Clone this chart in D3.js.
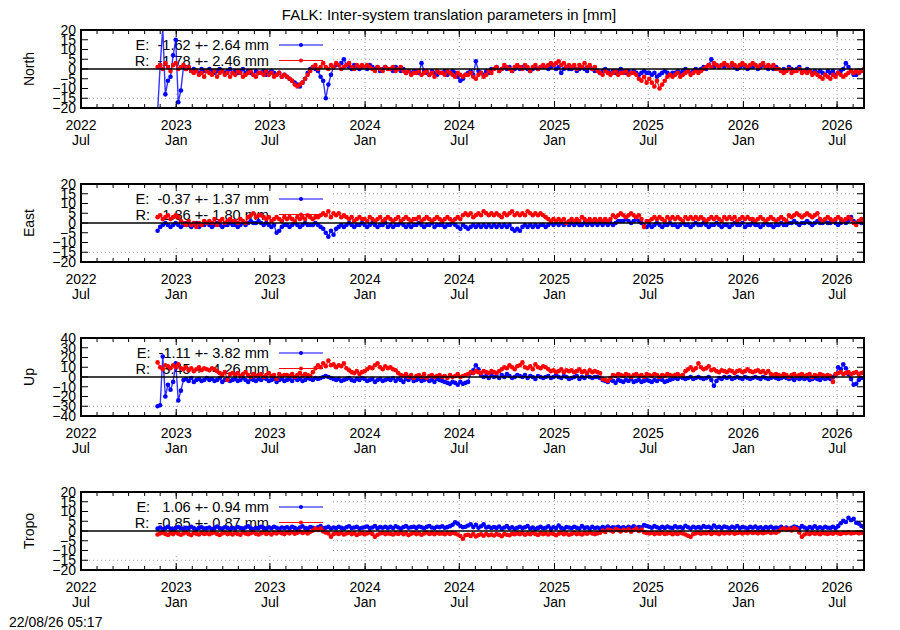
<!DOCTYPE html>
<html>
<head>
<meta charset="utf-8">
<script src="https://cdn.jsdelivr.net/npm/d3@7"></script>
<style>
body { margin: 0; background: #fff; }
svg { display: block; font-family: "Liberation Sans", Arial, sans-serif; }
</style>
</head>
<body>
<svg id="chart" width="900" height="630"></svg>
<script>
// series are sampled every 5 days from the first epoch
var startDay = "2022-11-26";
var stepDays = 5;

// North [mm]
var northE = [
  -22, 2, 21, -13, -6, -4, 7, 15, -17, -11,
  1, 0, 1, -1, 0, -1, -2, 0, -1, -1,
  0, -1, -2, -1, 0, -1, -2, -1, 0, -2,
  -1, -2, -1, 0, -2, -1, -2, -3, -1, -2,
  -2, -1, -3, -2, -1, -2, -3, -2, -4, -3,
  -4, -5, -6, -7, -8, -9, -7, -5, -2, 0,
  1, 0, -1, -4, -6, -15, -8, -3, 1, 2,
  2, 3, 5, 2, 1, 0, 2, 1, 0, 1,
  1, 0, 2, 1, 0, 1, -1, 0, 1, 0,
  0, -1, 1, 0, -1, 0, -2, -1, -2, -1,
  -1, -2, 3, -1, -2, -3, -1, -2, -3, -2,
  -2, -1, -3, -2, -1, -2, -4, -6, -5, -3,
  -2, -1, -3, 4, -1, -2, -3, -1, -2, 0,
  0, 1, -1, 0, 1, 0, 1, -1, 0, 1,
  0, 1, 1, 0, -1, 0, 1, 0, 1, 1,
  1, 0, 1, 2, 0, 1, -2, 0, 1, 0,
  0, 1, -1, 0, 1, 0, -1, 1, 0, -1,
  -1, -2, -1, 0, -1, -2, -1, -2, -1, 0,
  -1, -2, -1, -2, -1, -2, -3, -2, -1, -2,
  -2, -3, -2, -4, -3, -2, -1, -2, -3, -2,
  -2, -1, -2, -1, 0, -1, -2, -1, 0, -1,
  0, 1, 0, 2, 5, 1, 2, 1, 2, 1,
  2, 1, 2, 1, 0, 1, 2, 1, 0, 1,
  1, 2, 0, 1, 2, 1, 0, 1, 0, 1,
  0, -1, 0, -1, 1, 0, -1, 0, 1, -1,
  -1, 0, -1, -2, -1, -2, -1, -2, -3, -1,
  -2, -1, -3, -2, -1, 0, 3, 1, -1, -3,
  -3, -2, -1, -1
];
var northR = [
  1, 2, 0, 3, 1, -1, 2, 3, 0, 1,
  2, 0, 1, -1, -2, -1, -3, -2, -4, -1,
  -2, -3, -1, -4, -2, -1, -3, -2, -4, -2,
  -3, -1, -2, -4, -3, -2, -1, -3, -4, -2,
  -2, -3, -1, -3, -2, -4, -3, -2, -4, -3,
  -4, -5, -6, -8, -9, -8, -7, -5, -3, -1,
  1, 2, 0, 1, 3, 1, 0, 2, 1, 3,
  2, 0, 1, 2, 3, 1, 0, 2, 1, 2,
  1, 2, 1, 0, -1, 1, 0, -1, 1, 0,
  0, 1, -1, 0, 1, -1, -2, -1, -3, -2,
  -2, -1, -3, -2, -1, -3, -2, -4, -1, -2,
  -2, -3, -1, -2, -3, -4, -2, -3, -4, -3,
  -3, -2, -4, -5, -3, -2, -4, -3, -1, -2,
  0, 1, -1, 0, 2, 1, 0, -1, 1, 2,
  1, 0, 2, 1, -1, 1, 2, 0, 1, 2,
  1, 2, 3, 2, 3, 4, 2, 3, 1, 2,
  1, 2, 0, 2, 1, 3, 1, 2, 0, 1,
  -1, -2, -3, -1, -2, -3, -2, -1, -3, -2,
  -2, -1, -3, -2, -2, -3, -5, -6, -4, -7,
  -5, -7, -9, -6, -10, -8, -6, -4, -3, -4,
  -3, -2, -4, -3, -2, -1, -3, -2, -1, -2,
  -1, 0, 1, 2, 1, 3, 2, 1, 2, 3,
  2, 1, 3, 2, 1, 2, 3, 2, 1, 2,
  3, 2, 1, 2, 3, 1, 2, 1, 2, 0,
  0, -1, -2, -1, 0, -2, -1, -1, 0, -2,
  -1, -2, -1, -3, -2, -3, -4, -5, -3, -4,
  -5, -3, -4, -2, -3, -4, -3, -2, -1, -2,
  -1, -2, -1, 0
];

// East [mm]
var eastE = [
  -4, -2, -1, 0, -1, -2, -1, 0, -1, -2,
  -1, 0, -1, -2, -1, 0, -2, -1, -1, 0,
  -1, -2, -1, 0, -1, -2, -1, -1, 0, -1,
  -1, -2, -1, 0, -1, 0, 1, 0, 0, 1,
  0, -1, 0, -1, -2, -1, -5, -4, -2, -1,
  -1, -2, -1, 0, -1, -2, -1, 0, -1, -1,
  -1, 0, -1, -2, -3, -5, -7, -4, -6, -3,
  -2, -1, -2, -1, 0, -1, -2, -1, -1, 0,
  -1, -2, -1, 0, -1, -2, -1, -1, 0, -2,
  -1, -2, -1, -1, 0, -1, -2, -1, -2, -1,
  -1, 0, -1, -2, -1, -1, 0, -2, -1, -1,
  -1, -2, -1, -1, 0, -1, -2, -3, -1, -2,
  -3, -2, -1, -2, -1, -2, -1, -2, -1, -2,
  -1, -2, -1, -2, -1, -2, -1, -3, -4, -3,
  -4, -2, -1, -2, -1, -2, -1, -2, -1, -1,
  -2, -1, 0, -1, 0, -1, 0, -1, 0, -1,
  0, -1, 0, -1, -1, 0, -1, 0, -1, 0,
  -1, 0, -1, 0, -1, 0, -1, 0, 1, 1,
  1, 2, 1, 0, 1, 2, 1, 0, -1, -2,
  -1, -2, -1, 0, -1, -2, -1, -1, 0, -1,
  -1, -2, -1, 0, -1, -1, -2, -1, 0, -1,
  -1, 0, -1, -2, -1, -1, 0, -1, -2, -1,
  -1, -2, -1, 0, -1, -1, 0, -2, -1, -1,
  0, -1, -1, -2, -1, 0, -1, -1, -2, -1,
  -1, 0, -1, -1, 0, 0, 1, 0, -1, 0,
  0, 1, 0, -1, 0, 1, 0, 0, 1, 0,
  0, 1, 0, -1, 0, 1, 0, 1, 3, 1,
  0, 1, 0, 0
];
var eastR = [
  3, 4, 2, 3, 4, 2, 3, 4, 3, 1,
  0, -1, 1, -1, 0, -2, 0, -1, 1, 0,
  1, 0, 2, -1, 1, 2, 0, 1, 2, 1,
  1, 0, 2, 1, 0, 3, 4, 5, 3, 4,
  4, 3, 2, 3, 1, 2, 3, 2, 1, 3,
  2, 3, 2, 1, 3, 2, 3, 2, 4, 3,
  2, 3, 3, 4, 5, 4, 6, 3, 5, 4,
  5, 3, 4, 3, 2, 3, 1, 2, 3, 2,
  2, 1, 3, 2, 1, 2, 3, 1, 2, 3,
  2, 1, 2, 3, 1, 2, 3, 2, 1, 2,
  2, 3, 1, 2, 3, 2, 1, 2, 3, 2,
  1, 2, 3, 2, 1, 2, 3, 2, 4, 5,
  4, 5, 3, 4, 5, 4, 6, 5, 4, 5,
  4, 5, 4, 3, 5, 4, 5, 6, 4, 5,
  4, 5, 4, 6, 5, 4, 5, 4, 5, 4,
  3, 2, 1, 2, 1, 2, 1, 2, 0, 1,
  2, 1, 2, 1, 3, 2, 1, 2, 1, 2,
  1, 2, 1, 2, 1, 2, 4, 3, 4, 5,
  4, 3, 4, 5, 4, 3, 4, 2, -2, 1,
  1, 2, 3, 2, 3, 2, 1, 3, 2, 3,
  2, 3, 2, 1, 3, 2, 3, 2, 3, 2,
  3, 2, 1, 2, 3, 2, 3, 2, 1, 3,
  2, 3, 2, 3, 1, 2, 3, 2, 3, 2,
  2, 1, 2, 3, 2, 1, 2, 3, 2, 1,
  2, 3, 2, 1, 4, 3, 4, 5, 4, 3,
  4, 5, 4, 3, 4, 5, 2, 1, 2, 3,
  2, 1, 2, 3, 2, 1, 2, 3, 2, 0,
  -1, 1, 2, 1
];

// Up [mm]
var upE = [
  -30, -29, 21, -20, -8, -13, -5, 14, -24, -14,
  -3, -2, -4, -1, -5, -3, -2, -4, -3, -1,
  -3, -2, -4, -3, -1, -5, -3, -2, -4, -3,
  -2, -4, -3, -1, -3, -5, -2, -3, -4, -2,
  -3, -1, -2, -4, -3, -2, -5, -3, -2, -4,
  -3, -2, -4, -1, -3, -2, -4, -3, -1, -2,
  -3, -1, -2, -1, 0, 1, 0, -1, -2, -3,
  -2, -4, -3, -2, -1, -3, -4, -2, -3, -1,
  -2, -4, -3, -2, -5, -3, -2, -4, -3, -2,
  -3, -1, -4, -2, -3, -5, -2, -3, -1, -4,
  -3, -2, -4, -3, -2, -4, -3, -5, -2, -3,
  -4, -5, -6, -7, -5, -6, -8, -5, -7, -6,
  -5, 4, 7, 12, 8, 2, 0, 1, -1, 2,
  0, 1, -1, 2, 0, 3, 1, -1, 0, 2,
  1, 0, 2, -1, 1, 0, -2, 1, 0, -1,
  0, 1, -1, 0, 2, 0, -1, 1, 0, -2,
  -1, 0, 1, -2, 0, -1, 1, 0, -1, 0,
  0, -1, -3, -4, -5, -3, -4, -6, -3, -4,
  -5, -3, -4, -2, -5, -4, -3, -5, -4, -3,
  -4, -5, -3, -4, -2, -3, -5, -4, -3, -2,
  -1, -2, 0, -1, -2, -1, 0, -2, -1, 0,
  -1, -2, -1, 0, -3, -9, -4, -1, -2, 0,
  -1, 0, -2, -1, 0, -1, -2, 0, -1, -2,
  -1, 0, -1, -2, 0, -1, -2, -1, 0, -1,
  -2, -1, 0, -1, -2, -1, -3, -1, -2, -1,
  -2, -1, -3, -2, -1, -2, -3, -1, -2, -1,
  -2, 0, 2, 10, 8, 13, 9, 3, -2, -8,
  -7, -3, -1, -1
];
var upR = [
  15, 10, 8, 12, 11, 9, 12, 10, 13, 9,
  8, 10, 7, 9, 6, 8, 10, 7, 9, 8,
  7, 9, 8, 6, 4, 2, 5, -3, 3, 4,
  2, 4, 1, 3, 5, 2, 0, 3, 1, 2,
  3, 0, 2, 4, 1, 2, -2, 3, 1, 2,
  2, 1, 3, 0, 2, 4, 1, 3, 2, 1,
  5, 9, 12, 10, 14, 11, 17, 12, 13, 10,
  12, 11, 14, 9, 7, 5, 4, 6, 3, 5,
  6, 8, 10, 9, 12, 14, 10, 8, 11, 9,
  10, 8, 7, 4, 2, 1, 3, 0, 2, -1,
  1, 2, 0, 3, -1, 1, 2, 0, 1, 2,
  0, 1, -1, 2, 0, 1, 3, 0, 1, 2,
  3, 5, 4, 6, 5, 4, 6, 5, 4, 6,
  5, 4, 6, 8, 10, 9, 12, 10, 8, 11,
  12, 15, 10, 9, 11, 8, 13, 10, 9, 11,
  10, 8, 6, 7, 5, 6, 8, 5, 7, 6,
  7, 5, 6, 8, 5, 6, 4, 7, 5, 6,
  5, 4, -2, -3, -4, -1, 2, 1, 3, 2,
  1, 3, 2, 0, 2, 3, 1, 2, 0, 3,
  2, 1, 3, 2, 0, 2, 1, 3, 2, 1,
  2, 3, 1, 2, 6, 8, 10, 7, 9, 14,
  10, 8, 9, 11, 7, 8, 6, 5, 7, 6,
  5, 7, 6, 4, 6, 7, 5, 6, 8, 6,
  5, 6, 7, 5, 6, 4, 6, 3, 2, 3,
  2, 1, 3, 2, 0, 2, 3, 1, 2, 3,
  1, 2, 3, 0, 2, 1, 3, 2, 1, 2,
  1, -5, 3, 4, 5, 3, 4, 5, 3, 4,
  5, 3, 4, 5
];

// Tropo [mm]
var tropoE = [
  1.2, 1.8, 1.0, 1.5, 2.1, 1.3, 0.9, 1.6, 2.0, 1.4,
  1.1, 1.7, 1.3, 2.2, 1.5, 0.8, 1.6, 1.9, 1.2, 1.4,
  1.8, 1.0, 1.5, 2.3, 1.4, 1.1, 1.9, 1.6, 0.9, 1.7,
  1.3, 2.0, 1.5, 1.2, 1.8, 2.4, 1.4, 1.0, 1.7, 1.5,
  2.1, 1.6, 1.2, 1.9, 1.4, 2.2, 1.7, 1.1, 1.8, 1.5,
  1.9, 1.3, 2.2, 1.6, 1.0, 1.8, 2.4, 1.5, 1.2, 2.0,
  1.6, 1.1, 1.9, 2.5, 1.4, 1.7, 2.1, 1.3, 1.8, 1.5,
  2.2, 1.6, 1.2, 1.9, 2.4, 1.5, 1.8, 2.1, 1.3, 1.7,
  1.9, 2.3, 1.5, 1.8, 2.6, 1.4, 2.0, 1.7, 2.2, 1.6,
  2.1, 1.5, 2.4, 1.8, 1.3, 2.0, 2.5, 1.7, 1.9, 2.2,
  1.6, 2.3, 1.9, 1.4, 2.1, 2.6, 1.8, 1.5, 2.2, 1.9,
  2.4, 1.7, 2.0, 2.5, 3.2, 4.5, 3.8, 2.6, 1.9, 2.2,
  2.8, 3.5, 2.0, 3.2, 1.7, 2.4, 3.4, 1.8, 2.2, 1.5,
  2.0, 1.6, 2.3, 1.2, 1.8, 2.5, 1.4, 1.9, 1.1, 1.7,
  2.2, 1.5, 1.9, 2.6, 1.3, 1.8, 1.0, 1.6, 2.1, 1.4,
  1.7, 2.4, 1.2, 1.9, 1.5, 2.8, 1.6, 1.1, 2.0, 1.8,
  1.4, 2.2, 1.7, 1.3, 2.5, 1.6, 1.9, 1.2, 2.1, 1.5,
  1.8, 1.3, 2.0, 1.6, 2.3, 1.4, 1.9, 1.7, 2.2, 1.5,
  1.9, 1.4, 2.1, 1.7, 2.4, 1.6, 2.0, 1.8, 3.0, 2.6,
  2.2, 1.7, 2.5, 1.9, 1.4, 2.1, 1.6, 2.3, 1.8, 1.5,
  2.4, 1.8, 2.0, 1.5, 2.7, 1.9, 1.3, 2.2, 1.7, 2.0,
  1.6, 2.5, 1.9, 2.2, 1.4, 2.8, 1.8, 2.1, 1.5, 2.3,
  1.9, 1.4, 2.2, 1.7, 2.6, 1.5, 2.0, 1.8, 1.3, 2.1,
  1.7, 2.3, 1.5, 1.9, 1.2, 2.0, 1.6, 2.2, 1.4, 1.8,
  1.5, 2.1, 1.3, 1.8, 1.0, 1.6, 2.3, 1.9, 1.4, 2.5,
  1.8, 1.2, 2.0, 1.6, 2.4, 1.5, 1.9, 1.3, 2.2, 1.7,
  1.6, 2.1, 1.4, 2.5, 4.0, 5.2, 4.6, 6.8, 5.5, 6.3,
  4.2, 3.8, 2.6, 1.9
];
var tropoR = [
  -1.8, -1.2, -0.9, -1.5, -2.0, -1.1, -1.6, -0.8, -1.4, -1.9,
  -1.3, -0.7, -1.6, -2.1, -1.0, -1.4, -1.8, -0.9, -1.5, -1.2,
  -1.7, -1.1, -0.8, -1.5, -2.0, -1.3, -0.9, -1.6, -1.2, -1.8,
  -1.0, -1.5, -1.9, -0.8, -1.3, -1.7, -1.1, -0.6, -1.4, -1.8,
  -1.2, -0.7, -1.5, -1.0, -1.8, -0.9, -1.3, -0.6, -1.1, -1.6,
  -0.8, -1.2, -0.5, -1.4, -0.9, -0.3, -1.0, -0.6, -1.3, -0.4,
  0.2, 1.2, 0.5, 1.4, -0.2, -0.8, -1.3, -2.9, -1.6, -1.1,
  -1.5, -1.0, -1.8, -1.3, -0.9, -1.6, -1.2, -2.0, -1.4, -1.1,
  -1.7, -1.2, -0.8, -1.5, -3.0, -1.9, -1.3, -1.0, -1.6, -1.2,
  -1.4, -1.8, -1.1, -1.5, -0.9, -1.7, -1.2, -2.1, -1.4, -1.0,
  -1.6, -1.2, -1.9, -1.3, -0.8, -1.5, -1.1, -1.7, -1.0, -1.4,
  -1.2, -1.7, -1.0, -1.5, -0.9, -1.3, -1.8, -2.6, -4.0, -2.2,
  -1.9, -2.5, -1.6, -2.8, -2.1, -1.7, -2.4, -1.5, -2.2, -1.8,
  -2.3, -1.6, -2.0, -2.7, -1.5, -1.9, -2.2, -1.4, -1.7, -1.2,
  -1.6, -1.1, -1.9, -1.3, -1.7, -1.0, -1.5, -2.0, -1.2, -1.6,
  -1.3, -1.8, -1.1, -1.5, -2.2, -1.4, -1.0, -1.7, -1.2, -1.9,
  -1.5, -1.0, -1.6, -1.3, -1.8, -1.1, -1.4, -0.8, -1.3, -1.6,
  -1.2, -0.9, 0.2, -0.5, 0.8, 0.3, -0.3, 1.0, 0.4, -0.2,
  0.6, 0.1, 0.9, -0.4, 0.5, 1.2, 0.0, 0.7, -0.6, -1.0,
  -1.3, -0.9, -1.6, -1.1, -1.4, -0.8, -1.5, -1.2, -1.0, -1.7,
  -1.1, -1.5, -0.9, -1.3, -1.8, -2.4, -3.0, -1.6, -1.2, -0.9,
  -1.4, -1.0, -1.2, -0.7, -1.5, -0.9, -1.1, -1.6, -0.8, -1.3,
  -0.9, -1.2, -0.6, -1.4, -1.0, -0.7, -1.3, -0.8, -1.1, -0.5,
  -1.0, -0.7, -1.2, -0.6, -1.1, -0.8, -0.4, -1.0, -0.6, -0.9,
  -0.2, 0.8, 1.4, 0.6, 1.2, 0.3, 1.5, 0.9, -0.8, -3.0,
  -1.8, -1.2, -1.6, -0.9, -1.4, -1.1, -1.7, -1.0, -1.3, -1.5,
  -1.0, -1.4, -0.8, -1.2, -1.5, -0.9, -1.1, -0.7, -1.3, -1.0,
  -0.8, -1.2, -0.9, -1.1
];

var panelNames = ["North", "East", "Up", "Tropo"];
var panelLimits = [20, 20, 40, 20];
var panelSteps = [5, 5, 10, 5];
var legendE = ["E:  -1.62 +- 2.64 mm", "E:  -0.37 +- 1.37 mm", "E:  -1.11 +- 3.82 mm", "E:   1.06 +- 0.94 mm"];
var legendR = ["R:  -1.78 +- 2.46 mm", "R:   1.86 +- 1.80 mm", "R:   3.45 +- 4.26 mm", "R:  -0.85 +- 0.87 mm"];
var seriesE = [northE, eastE, upE, tropoE];
var seriesR = [northR, eastR, upR, tropoR];
var majorTicks = ["2022-07-01", "2023-01-01", "2023-07-01", "2024-01-01", "2024-07-01",
                  "2025-01-01", "2025-07-01", "2026-01-01", "2026-07-01"];
var xStart = "2022-07-01", xEnd = "2026-08-22";

var svg = d3.select("#chart");
var parse = d3.timeParse("%Y-%m-%d");
var left = 81, right = 864, ph = 78;

var x = d3.scaleTime().domain([parse(xStart), parse(xEnd)]).range([left, right]);
var t0 = parse(startDay);
var majors = majorTicks.map(parse);
var minors = d3.timeMonth.range(parse(xStart), parse(xEnd));

var blue = "#0000ff", red = "#ff0000";

svg.append("text")
  .attr("x", 449).attr("y", 20)
  .attr("text-anchor", "middle")
  .style("font-size", "15px")
  .text("FALK: Inter-system translation parameters in [mm]");

svg.append("text")
  .attr("x", 9).attr("y", 627)
  .style("font-size", "14px")
  .text("22/08/26 05:17");

panelNames.forEach(function (name, k) {
  var top = 30 + 154 * k, bottom = top + ph;
  var lim = panelLimits[k];
  var y = d3.scaleLinear().domain([-lim, lim]).range([bottom, top]);
  var yTicks = d3.range(-lim, lim + 0.001, panelSteps[k]);
  var g = svg.append("g");

  svg.append("clipPath").attr("id", "clip" + k)
    .append("rect").attr("x", left).attr("y", top).attr("width", right - left).attr("height", ph);

  // dotted grid
  g.selectAll(".hg").data(yTicks.filter(function (v) { return v !== 0 && Math.abs(v) !== lim; }))
    .enter().append("line")
    .attr("x1", left).attr("x2", right)
    .attr("y1", function (d) { return y(d); }).attr("y2", function (d) { return y(d); })
    .attr("stroke", "#a0a0a0").attr("stroke-width", 1).attr("stroke-dasharray", "1,3");
  g.selectAll(".vg").data(majors.slice(1))
    .enter().append("line")
    .attr("x1", function (d) { return x(d); }).attr("x2", function (d) { return x(d); })
    .attr("y1", top).attr("y2", bottom)
    .attr("stroke", "#a0a0a0").attr("stroke-width", 1).attr("stroke-dasharray", "1,3");

  // key box
  g.append("rect").attr("x", left + 1).attr("y", top + 1)
    .attr("width", 251).attr("height", 62).attr("fill", "#fff");

  var keys = [[legendE[k], blue, top + 15], [legendR[k], red, top + 30.5]];
  keys.forEach(function (kk) {
    g.append("text").attr("x", 269).attr("y", kk[2] + 5)
      .attr("text-anchor", "end")
      .style("font-size", "14.6px").style("white-space", "pre")
      .text(kk[0]);
    g.append("line").attr("x1", 279).attr("x2", 323).attr("y1", kk[2]).attr("y2", kk[2])
      .attr("stroke", kk[1]).attr("stroke-width", 1.2);
    g.append("circle").attr("cx", 301).attr("cy", kk[2]).attr("r", 2).attr("fill", kk[1]);
  });

  // data
  var plot = g.append("g").attr("clip-path", "url(#clip" + k + ")");
  var line = d3.line()
    .x(function (d, i) { return x(d3.timeDay.offset(t0, i * stepDays)); })
    .y(function (d) { return y(d); });
  [[seriesE[k], blue], [seriesR[k], red]].forEach(function (s) {
    plot.append("path").datum(s[0])
      .attr("d", line)
      .attr("fill", "none").attr("stroke", s[1]).attr("stroke-width", 1.4).attr("stroke-opacity", 0.8);
    plot.selectAll(null).data(s[0]).enter().append("circle")
      .attr("cx", function (d, i) { return x(d3.timeDay.offset(t0, i * stepDays)); })
      .attr("cy", function (d) { return y(d); })
      .attr("r", 2.3)
      .attr("fill", s[1]);
  });

  // zero line
  g.append("line").attr("x1", left).attr("x2", right).attr("y1", y(0)).attr("y2", y(0))
    .attr("stroke", "#000").attr("stroke-width", 1.3);

  // ticks, inward on all four sides
  var tick = function (sel, len, vals, side) {
    sel.selectAll(null).data(vals).enter().append("line")
      .attr("x1", function (d) { return side === "x" ? x(d) : (len > 0 ? left : right); })
      .attr("x2", function (d) { return side === "x" ? x(d) : (len > 0 ? left + len : right + len); })
      .attr("y1", function (d) { return side === "x" ? (len > 0 ? top : bottom) : y(d); })
      .attr("y2", function (d) { return side === "x" ? (len > 0 ? top + len : bottom + len) : y(d); })
      .attr("stroke", "#000").attr("stroke-width", 1);
  };
  tick(g, 4, minors, "x"); tick(g, -4, minors, "x");
  tick(g, 7, majors, "x"); tick(g, -7, majors, "x");
  tick(g, 7, yTicks, "y"); tick(g, -7, yTicks, "y");

  g.append("rect").attr("x", left).attr("y", top).attr("width", right - left).attr("height", ph)
    .attr("fill", "none").attr("stroke", "#000").attr("stroke-width", 2);

  // y labels
  var ya = d3.axisLeft(y).tickValues(yTicks).tickSize(0).tickPadding(5);
  var yg = g.append("g").attr("transform", "translate(" + left + ",0)").call(ya);
  yg.select(".domain").remove();
  yg.selectAll("text").attr("font-family", null).style("font-size", "14px").attr("fill", "#000");

  // x labels: year over month
  var fy = d3.timeFormat("%Y"), fm = d3.timeFormat("%b");
  majors.forEach(function (d) {
    g.append("text").attr("x", x(d)).attr("y", bottom + 22).attr("text-anchor", "middle")
      .style("font-size", "14px").text(fy(d));
    g.append("text").attr("x", x(d)).attr("y", bottom + 37).attr("text-anchor", "middle")
      .style("font-size", "14px").text(fm(d));
  });

  g.append("text")
    .attr("transform", "translate(34," + (top + ph / 2) + ") rotate(-90)")
    .attr("text-anchor", "middle")
    .style("font-size", "14px")
    .text(name);
});
</script>
</body>
</html>
